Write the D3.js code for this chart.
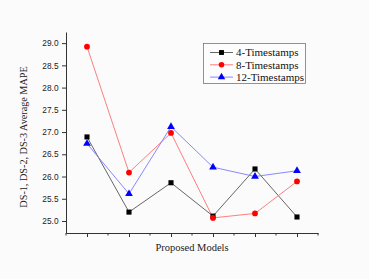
<!DOCTYPE html>
<html><head><meta charset="utf-8">
<script src="https://cdn.jsdelivr.net/npm/d3@7/dist/d3.min.js"></script>
<style>body{margin:0;background:#fbfbfb;}svg{display:block;}</style>
</head><body>
<svg id="c" width="369" height="279"></svg>
<script>
const models = [1, 2, 3, 4, 5, 6];
const ts4 = [26.89, 25.20, 25.86, 25.11, 26.17, 25.09];
const ts8 = [28.92, 26.09, 26.98, 25.07, 25.17, 25.89];
const ts12 = [26.74, 25.61, 27.12, 26.21, 26.00, 26.13];
const yTicks = [25.0, 25.5, 26.0, 26.5, 27.0, 27.5, 28.0, 28.5, 29.0];
const seriesNames = ["4-Timestamps", "8-Timestamps", "12-Timestamps"];

const svg = d3.select("#c");
const x = d3.scaleLinear().domain([0.5, 6.5]).range([66, 318]);
const y = d3.scaleLinear().domain([24.73, 29.25]).range([233, 32]);

// Y axis
const ya = svg.append("g").attr("transform", "translate(66,0)")
  .call(d3.axisLeft(y).tickValues(yTicks).tickFormat(d3.format(".1f")).tickSize(4).tickSizeOuter(0));
ya.select(".domain").attr("stroke", "#333");
ya.selectAll(".tick line").attr("stroke", "#333");
ya.selectAll("text").attr("font-family", "Liberation Sans, Arial, sans-serif").attr("font-size", 8.3).attr("fill", "#222").attr("dx", -0.5);

// X axis
const xa = svg.append("g").attr("transform", "translate(0,233)")
  .call(d3.axisBottom(x).tickValues(models).tickFormat("").tickSize(4).tickSizeOuter(0));
xa.select(".domain").attr("stroke", "#333");
xa.selectAll(".tick line").attr("stroke", "#333");
const minor = d3.range(0.5, 6.6, 1);
svg.append("g").selectAll("line").data(minor).join("line")
  .attr("x1", d => x(d)).attr("x2", d => x(d)).attr("y1", 233).attr("y2", 235.5)
  .attr("stroke", "#333");

// Titles
svg.append("text").attr("x", 192).attr("y", 251).attr("text-anchor", "middle")
  .attr("font-family", "Liberation Serif, Times New Roman, serif").attr("font-size", 10.5).attr("fill", "#222")
  .text("Proposed Models");
svg.append("text").attr("transform", "translate(27,137) rotate(-90)").attr("text-anchor", "middle")
  .attr("font-family", "Liberation Serif, Times New Roman, serif").attr("font-size", 10.2).attr("fill", "#222")
  .text("DS-1, DS-2, DS-3 Average MAPE");

const series = [
  {name: seriesNames[0], vals: ts4, line: "#555", fill: "#000", shape: d3.symbolSquare},
  {name: seriesNames[1], vals: ts8, line: "#ff6f6f", fill: "#f00", shape: d3.symbolCircle},
  {name: seriesNames[2], vals: ts12, line: "#7a7aff", fill: "#00f", shape: d3.symbolTriangle}
];
const line = d3.line().x((d, i) => x(models[i])).y(d => y(d));
series.forEach(s => {
  svg.append("path").attr("d", line(s.vals)).attr("fill", "none").attr("stroke", s.line).attr("stroke-width", 0.9);
});
series.forEach(s => {
  svg.append("g").selectAll("path").data(s.vals).join("path")
    .attr("transform", (d, i) => `translate(${x(models[i])},${y(d)})`)
    .attr("d", d3.symbol().type(s.shape).size(26)).attr("fill", s.fill);
});

// Legend
const lg = svg.append("g");
lg.append("rect").attr("x", 203.5).attr("y", 43.5).attr("width", 102).attr("height", 40)
  .attr("fill", "#fdfdfd").attr("stroke", "#777").attr("stroke-width", 0.8);
series.forEach((s, i) => {
  const yy = 52.5 + i * 12.3;
  lg.append("line").attr("x1", 210).attr("x2", 233).attr("y1", yy).attr("y2", yy).attr("stroke", s.line).attr("stroke-width", 0.9);
  lg.append("path").attr("transform", `translate(221.5,${yy})`).attr("d", d3.symbol().type(s.shape).size(24)).attr("fill", s.fill);
  lg.append("text").attr("x", 236).attr("y", yy + 3.8).attr("font-family", "Liberation Serif, Times New Roman, serif")
    .attr("font-size", 11).attr("fill", "#111").text(s.name);
});
</script>
</body></html>
